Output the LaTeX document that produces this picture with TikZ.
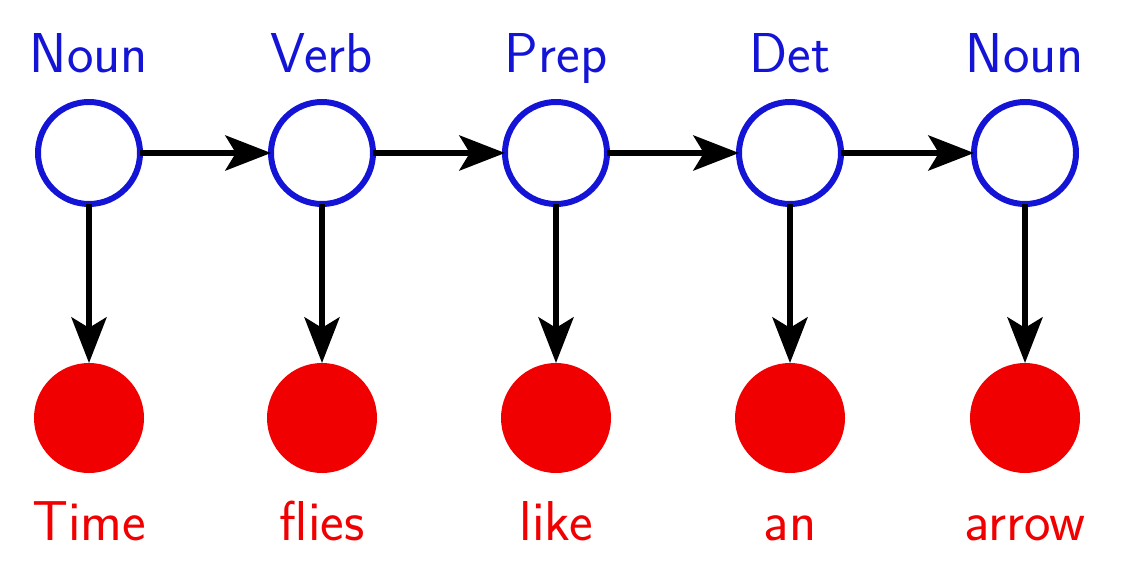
\documentclass[tikz,border=0pt]{standalone}
\usepackage{amsmath, amssymb}
\usepackage{tkz-graph}
\usetikzlibrary{arrows.meta}
\usetikzlibrary{shapes}
\renewcommand{\familydefault}{\sfdefault}
\definecolor{tagBlue}{RGB}{20,20,215}
\definecolor{wordRed}{RGB}{240,0,0}

\begin{document}
\begin{tikzpicture}[font = \fontsize{16}{19}\selectfont]
	\useasboundingbox (0,0) rectangle (11.32,5.80);
	\tikzstyle{VertexStyle} = []
	\tikzstyle{LabelStyle} = [fill = none, draw = none]
	\tikzstyle{EdgeStyle} = [line width = 1.5pt, -{Stealth[length = 13pt, width = 10pt, inset = 3pt]}]
	\tikzstyle{hiddenStyle}=[shape = circle, minimum size = 1.02cm, inner sep = 0pt, line width = 1.7pt, draw = tagBlue, fill = white]
	\tikzstyle{observedStyle}=[shape = circle, minimum size = 1.10cm, inner sep = 0pt, fill = wordRed]
	\tikzstyle{tagStyle}=[anchor = base, inner sep = 0pt, text = tagBlue]
	\tikzstyle{wordStyle}=[anchor = base, inner sep = 0pt, text = wordRed]
	\Vertex[style = hiddenStyle, x = 0.89, y = 4.27, NoLabel]{h1}
	\Vertex[style = hiddenStyle, x = 3.22, y = 4.27, NoLabel]{h2}
	\Vertex[style = hiddenStyle, x = 5.56, y = 4.27, NoLabel]{h3}
	\Vertex[style = hiddenStyle, x = 7.90, y = 4.27, NoLabel]{h4}
	\Vertex[style = hiddenStyle, x = 10.25, y = 4.27, NoLabel]{h5}
	\Vertex[style = observedStyle, x = 0.89, y = 1.62, NoLabel]{w1}
	\Vertex[style = observedStyle, x = 3.22, y = 1.62, NoLabel]{w2}
	\Vertex[style = observedStyle, x = 5.56, y = 1.62, NoLabel]{w3}
	\Vertex[style = observedStyle, x = 7.90, y = 1.62, NoLabel]{w4}
	\Vertex[style = observedStyle, x = 10.25, y = 1.62, NoLabel]{w5}
	\node[tagStyle] (t1) at (0.89, 5.07) {Noun};
	\node[tagStyle] (t2) at (3.22, 5.07) {Verb};
	\node[tagStyle] (t3) at (5.56, 5.07) {Prep};
	\node[tagStyle] (t4) at (7.90, 5.07) {Det};
	\node[tagStyle] (t5) at (10.25, 5.07) {Noun};
	\node[wordStyle] (x1) at (0.89, 0.40) {Time};
	\node[wordStyle] (x2) at (3.22, 0.40) {flies};
	\node[wordStyle] (x3) at (5.56, 0.40) {like};
	\node[wordStyle] (x4) at (7.90, 0.40) {an};
	\node[wordStyle] (x5) at (10.25, 0.40) {arrow};
	\Edge(h1)(h2)
	\Edge(h2)(h3)
	\Edge(h3)(h4)
	\Edge(h4)(h5)
	\Edge(h1)(w1)
	\Edge(h2)(w2)
	\Edge(h3)(w3)
	\Edge(h4)(w4)
	\Edge(h5)(w5)
	\end{tikzpicture}
\end{document}
